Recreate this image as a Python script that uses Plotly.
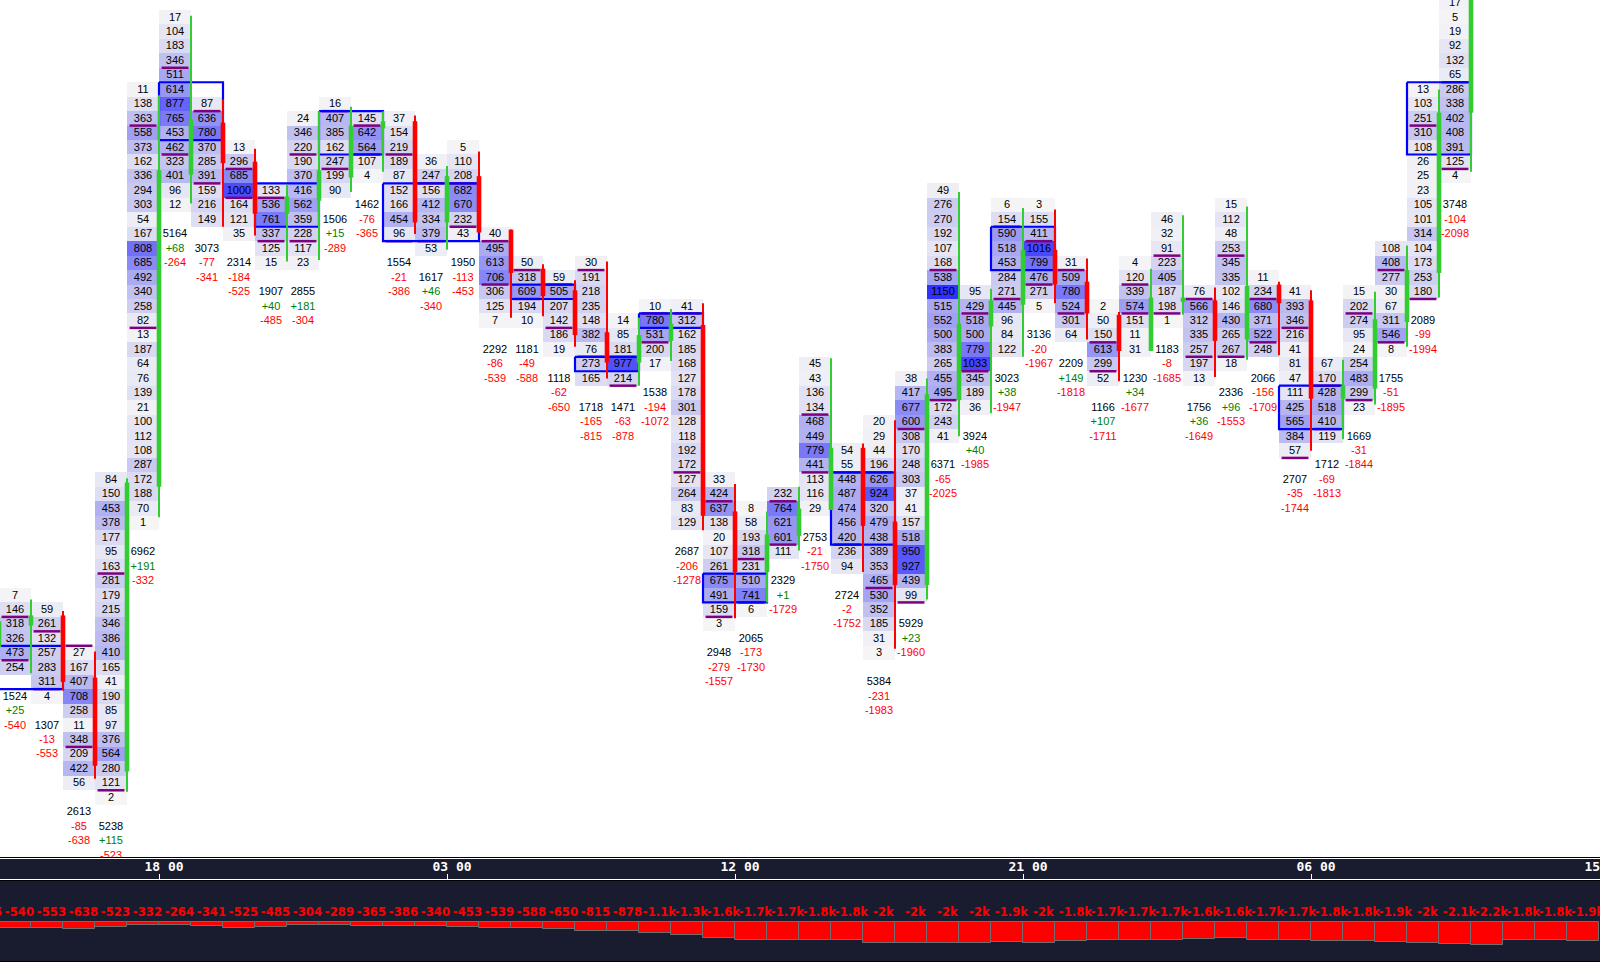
import plotly.graph_objects as go

# ---------- data (x = hourly bar index, y = price level index, downward) ----------
first_level = [40,41,44,32,5,0,6,9,12,7,6,7,7,10,9,15,17,18,17,21,20,20,32,34,33,24,30,28,25,12,19,13,13,17,20,17,14,19,13,18,19,24,19,16,5,-1]
volumes = [
 [7,146,318,326,473,254],
 [59,261,132,257,283,311,4],
 [27,167,407,708,258,11,348,209,422,56],
 [84,150,453,378,177,95,163,281,179,215,346,386,410,165,41,190,85,97,376,564,280,121,2],
 [11,138,363,558,373,162,336,294,303,54,167,808,685,492,340,258,82,13,187,64,76,139,21,100,112,108,287,172,188,70,1],
 [17,104,183,346,511,614,877,765,453,462,323,401,96,12],
 [87,636,780,370,285,391,159,216,149],
 [13,296,685,1000,164,121,35],
 [133,536,761,337,125,15],
 [24,346,220,190,370,416,562,359,228,117,23],
 [16,407,385,162,247,199,90],
 [145,642,564,107,4],
 [37,154,219,189,87,152,166,454,96],
 [36,247,156,412,334,379,53],
 [5,110,208,682,670,232,43],
 [40,495,613,706,306,125,7],
 [50,318,609,194,10],
 [59,505,207,142,186,19],
 [30,191,218,235,148,382,76,273,165],
 [14,85,181,977,214],
 [10,780,531,200,17],
 [41,312,162,185,168,127,178,301,128,118,192,172,127,264,83,129],
 [33,424,637,138,20,107,261,675,491,159,3],
 [8,58,193,318,231,510,741,6],
 [232,764,621,601,111],
 [45,43,136,134,468,449,779,441,113,116,29],
 [54,55,448,487,474,456,420,236,94],
 [20,29,44,196,626,924,320,479,438,389,353,465,530,352,185,31,3],
 [38,417,677,600,308,170,248,303,37,41,157,518,950,927,439,99],
 [49,276,270,192,107,168,538,1150,515,552,500,383,265,455,495,172,243,41],
 [95,429,518,500,779,1033,345,189,36],
 [6,154,590,518,453,284,271,445,96,84,122],
 [3,155,411,1016,799,476,271,5],
 [31,509,780,524,301,64],
 [2,50,150,613,299,52],
 [4,120,339,574,151,11,31],
 [46,32,91,223,405,187,198,1],
 [76,566,312,335,257,197,13],
 [15,112,48,253,345,335,102,146,430,265,267,18],
 [11,234,680,371,522,248],
 [41,393,346,216,41,81,47,111,425,565,384,57],
 [67,170,428,518,410,119],
 [15,202,274,95,24,254,483,299,23],
 [108,408,277,30,67,311,546,8],
 [13,103,251,310,108,26,25,23,105,101,314,104,173,253,180],
 [17,5,19,92,132,65,286,338,402,408,391,125,4],
]
bar_volume = [1524,1307,2613,5238,6962,5164,3073,2314,1907,2855,1506,1462,1554,1617,1950,2292,1181,1118,1718,1471,1538,2687,2948,2065,2329,2753,2724,5384,5929,6371,3924,3023,3136,2209,1166,1230,1183,1756,2336,2066,2707,1712,1669,1755,2089,3748]
bar_delta = [25,-13,-85,115,191,68,-77,-184,40,181,15,-76,-21,46,-113,-86,-49,-62,-165,-63,-194,-206,-279,-173,1,-21,-2,-231,23,-65,40,38,-20,149,107,34,-8,36,96,-156,-35,-69,-31,-51,-99,-104]
cum_delta = [-540,-553,-638,-523,-332,-264,-341,-525,-485,-304,-289,-365,-386,-340,-453,-539,-588,-650,-815,-878,-1072,-1278,-1557,-1730,-1729,-1750,-1752,-1983,-1960,-2025,-1985,-1947,-1967,-1818,-1711,-1677,-1685,-1649,-1553,-1709,-1744,-1813,-1844,-1895,-1994,-2098]
cum_delta_before = [-565]          # bar left of the window
cum_delta_after = [-2180,-1750,-1760,-1850]   # bars right of the window

mark_levels = [
 [41.5,44.5],[42.5,46.5],[43.5,50.5],[38.5,53.5],[7.5,21.5],[3.5,9.5],[6.5,11.5],[10.5,12.5],[12.5,15.5],[9.5,15.5],
 [6.5,10.5],[7.5,9.5],[9.5,15.5],[11.5,15.5],[11.5,14.5],[15.5,18.5],[17.5,19.5],[18.5,21.5],[17.5,23.5],[23.5,25.5],
 [20.5,22.5],[20.5,31.5],[33.5,41.5],[37.5,40.5],[33.5,36.5],[27.5,31.5],[31.5,36.5],[31.5,39.5],[28.5,40.5],[17.5,26.5],
 [20.5,24.5],[14.5,19.5],[15.5,18.5],[17.5,20.5],[22.5,24.5],[18.5,20.5],[16.5,20.5],[19.5,23.5],[16.5,23.5],[19.5,22.5],
 [21.5,30.5],[25.5,28.5],[20.5,26.5],[17.5,22.5],[7.5,19.5],[4.5,10.5],
]

# zones: first bar, last bar, top level, bottom level
zone_first = [-1,5,8,10,12,16,18,20,22,26,31,40,44]
zone_last  = [1,6,9,11,14,17,19,21,23,27,32,41,45]
zone_top   = [43.5,4.5,11.5,6.5,11.5,18.5,23.5,20.5,38.5,31.5,14.5,25.5,4.5]
zone_bot   = [46.5,8.5,14.5,9.5,15.5,19.5,24.5,21.5,40.5,36.5,17.5,28.5,9.5]

# candles, first entry is the bar at index -1
candle_x = list(range(-1,46))
c_open  = [43.6,42.1,41.4,45.7,52.2,32.5,10.9,7.3,10.0,13.6,12.7,11.1,7.7,7.2,14.2,11.0,14.7,17.4,18.9,21.8,23.9,22.4,21.3,34.2,38.4,35.9,34.1,29.8,34.9,39.3,26.5,21.4,19.9,16.1,18.3,20.6,23.1,19.7,19.6,22.3,18.5,19.6,26.4,25.7,21.1,17.7,6.6]
c_close = [41.8,41.4,46.0,51.8,32.2,10.6,7.1,10.1,13.6,12.4,10.6,7.5,7.2,14.2,11.0,14.9,17.7,19.3,22.0,23.9,22.0,21.2,34.5,38.4,35.8,34.0,29.8,35.2,39.3,26.1,21.2,19.6,16.1,18.5,20.5,23.1,19.4,19.4,22.4,18.6,19.8,26.4,25.5,20.9,17.5,6.6,-2.0]
c_high  = [41.8,40.3,41.1,43.9,31.9,5.4,-0.1,5.7,9.1,11.6,6.5,6.2,6.5,6.8,10.3,9.3,14.7,17.1,18.2,16.9,20.8,20.2,19.8,32.3,34.2,32.5,23.6,29.5,27.9,25.0,12.1,18.8,13.2,13.3,16.7,20.4,17.4,13.7,18.7,13.1,18.3,18.9,23.7,19.0,15.8,5.0,-2.0]
c_low   = [43.6,45.4,46.6,52.7,53.6,34.6,12.9,14.5,15.1,16.9,16.8,12.1,10.7,15.0,16.1,14.9,20.8,20.7,22.8,25.0,25.5,23.8,35.5,41.6,40.5,36.9,34.1,38.4,43.7,40.3,29.0,27.4,23.5,19.8,22.3,25.2,23.1,20.6,24.9,23.7,23.4,30.0,29.2,26.8,22.8,19.4,10.7]

tick_bars = [4.5,13.5,22.5,31.5,40.5,49.5]
tick_labels = ["18 00","03 00","12 00","21 00","06 00","15 00"]

# ---------- derived ----------
LEVEL_MIN, LEVEL_MAX = -1, 58
WIDTH, HEIGHT = 1600, 962
ZMAX = 1150
BLUE, PURPLE, GREEN, RED = "#0000ff", "#7f007f", "#32cd32", "#ff0000"
NAVY = "#191b2e"
CELL_FONT = "Liberation Sans"
PIXEL_FONT = "DejaVu Sans Mono"
LABEL_FONT = "DejaVu Sans Condensed, DejaVu Sans"
HEAT = [(0, (245,245,246)), (100, (230,230,244)), (300, (200,200,240)), (500, (170,170,242)),
        (700, (135,135,246)), (900, (95,95,250)), (1150, (48,48,255))]

def py(p):
    return 1 - p / HEIGHT

bars = list(range(len(volumes)))
levels = list(range(LEVEL_MIN, LEVEL_MAX + 1))
z = [[None] * len(bars) for _ in levels]
tx, ty, tt, tc = [], [], [], []
TEXT_NUDGE = 0.04
for b, (top, vals) in enumerate(zip(first_level, volumes)):
    for k, v in enumerate(vals):
        z[top + k - LEVEL_MIN][b] = v
        tx.append(b); ty.append(top + k + TEXT_NUDGE); tt.append(str(v)); tc.append("#000000")
    end = top + len(vals) - 1
    d = bar_delta[b]
    tx += [b, b, b]
    ty += [end + 2 + TEXT_NUDGE, end + 3 + TEXT_NUDGE, end + 4 + TEXT_NUDGE]
    tt += [str(bar_volume[b]), f"{d:+d}", str(cum_delta[b])]
    tc += ["#000000", "#008000" if d > 0 else RED, "#008000" if cum_delta[b] > 0 else RED]

fig = go.Figure()

fig.add_trace(go.Heatmap(
    x=bars, y=levels, z=z, zmin=0, zmax=ZMAX, showscale=False, hoverinfo="skip",
    colorscale=[[v / ZMAX, "rgb(%d,%d,%d)" % c] for v, c in HEAT], xaxis="x", yaxis="y"))

# purple markers
mx, my = [], []
for b, ms in enumerate(mark_levels):
    for m in ms:
        mx += [b - 0.42, b + 0.42, None]
        my += [m, m, None]
fig.add_trace(go.Scatter(x=mx, y=my, mode="lines", line=dict(color=PURPLE, width=2.5), hoverinfo="skip", xaxis="x", yaxis="y"))

# blue zones
zx, zy = [], []
for a, b, t, u in zip(zone_first, zone_last, zone_top, zone_bot):
    zx += [a - 0.5, b + 0.5, b + 0.5, a - 0.5, a - 0.5, None]
    zy += [t, t, u, u, t, None]
fig.add_trace(go.Scatter(x=zx, y=zy, mode="lines", line=dict(color=BLUE, width=2.2), hoverinfo="skip", xaxis="x", yaxis="y"))

# candles: wicks and bodies at the right edge of each bar
for color, test in ((GREEN, lambda o, c: c < o), (RED, lambda o, c: c >= o)):
    wx, wy, bx, by = [], [], [], []
    for b, o, c, h, l in zip(candle_x, c_open, c_close, c_high, c_low):
        if test(o, c):
            wx += [b + 0.5, b + 0.5, None]; wy += [h, l, None]
            bx += [b + 0.5, b + 0.5, None]; by += [o, c, None]
    fig.add_trace(go.Scatter(x=wx, y=wy, mode="lines", line=dict(color=color, width=2), hoverinfo="skip", xaxis="x", yaxis="y"))
    fig.add_trace(go.Scatter(x=bx, y=by, mode="lines", line=dict(color=color, width=4.6), hoverinfo="skip", xaxis="x", yaxis="y"))

fig.add_trace(go.Scatter(x=tx, y=ty, text=tt, mode="text", textposition="middle center",
                         textfont=dict(family=CELL_FONT, size=11, color=tc), hoverinfo="skip",
                         cliponaxis=True, xaxis="x", yaxis="y"))

# time strip
fig.add_trace(go.Scatter(x=[t + 0.16 for t in tick_bars], y=[0.55] * len(tick_bars), text=tick_labels, mode="text",
                         textposition="middle center", cliponaxis=True, hoverinfo="skip",
                         textfont=dict(family=PIXEL_FONT, size=13, color="#ffffff", weight="bold"), xaxis="x3", yaxis="y3"))

# lower panel
all_cum = cum_delta_before + cum_delta + cum_delta_after
all_x = list(range(-1, len(all_cum) - 1))

def fmt(v):
    if abs(v) < 1000:
        return str(v)
    s = f"{v / 1000:.1f}"
    return s[:-2] + "k" if s.endswith(".0") else s + "k"

fig.add_trace(go.Bar(x=all_x, y=all_cum, width=1, marker=dict(color=RED, line=dict(color="#6e6e6e", width=1)),
                     hoverinfo="skip", xaxis="x2", yaxis="y2"))
fig.add_trace(go.Scatter(x=[b + 0.14 for b in all_x], y=[857] * len(all_x), text=[fmt(v) for v in all_cum], mode="text",
                         textposition="middle center", cliponaxis=True, hoverinfo="skip",
                         textfont=dict(family=LABEL_FONT, size=13, color=RED, weight="bold"), xaxis="x2", yaxis="y2"))

xrange_ = [-15 / 32, (1600 - 15) / 32]
hidden = dict(showgrid=False, zeroline=False, showticklabels=False, ticks="", showline=False, fixedrange=True)

def band(y0, y1, color):
    return dict(type="rect", xref="paper", yref="paper", x0=0, x1=1, y0=py(y1), y1=py(y0),
                fillcolor=color, line_width=0, layer="below")

fig.update_layout(
    width=WIDTH, height=HEIGHT, margin=dict(l=0, r=0, t=0, b=0), showlegend=False,
    paper_bgcolor=NAVY, plot_bgcolor="rgba(0,0,0,0)", bargap=0,
    xaxis=dict(range=xrange_, domain=[0, 1], anchor="y", **hidden),
    yaxis=dict(range=[(857 - 17.2) / 14.45, -17.2 / 14.45], domain=[py(857), 1], anchor="x", **hidden),
    xaxis3=dict(range=xrange_, domain=[0, 1], anchor="y3", showgrid=False, zeroline=False, showline=False,
                showticklabels=False, tickmode="array", tickvals=tick_bars, ticks="inside", ticklen=5,
                tickwidth=1, tickcolor="#ffffff", fixedrange=True),
    yaxis3=dict(range=[0, 1], domain=[py(879), py(859)], anchor="x3", **hidden),
    xaxis2=dict(range=xrange_, domain=[0, 1], anchor="y2", **hidden),
    yaxis2=dict(range=[-3714, 3905], domain=[py(961), py(881)], anchor="x2", **hidden),
    shapes=[band(0, 857, "#ffffff"), band(857, 858, "#000000"), band(858, 859, "#ffffff"),
            band(879, 880, "#ffffff"), band(880, 881, "#000000"), band(961, 962, "#000000")],
)

fig.write_html("out.html", config=dict(displayModeBar=False),
               post_script="document.body.style.margin='0';document.documentElement.style.overflow='hidden';")
